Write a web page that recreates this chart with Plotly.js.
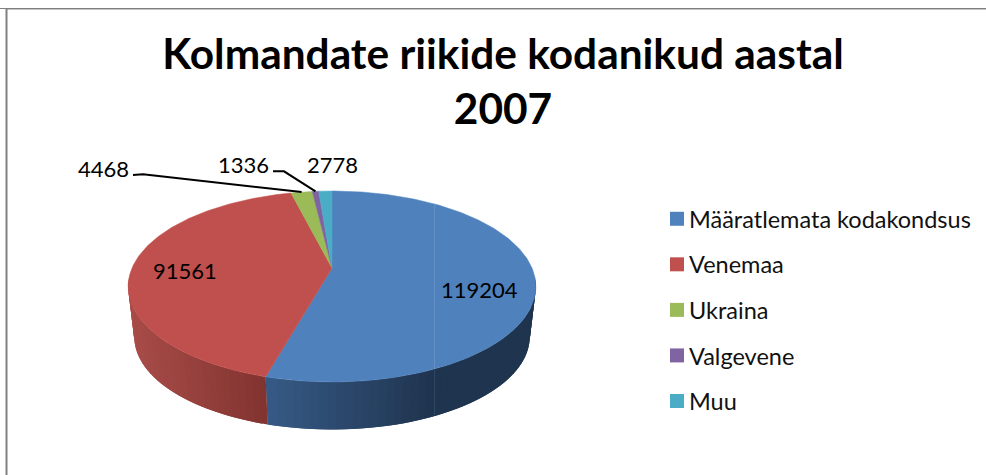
<!DOCTYPE html>
<html><head><meta charset="utf-8">
<script src="https://cdn.plot.ly/plotly-3.0.1.min.js"></script>
<style>html,body{margin:0;padding:0;background:#fff}#c{width:986px;height:475px}</style>
</head><body><div id="c"></div>
<script>
const categories = ["Määratlemata kodakondsus","Venemaa","Ukraina","Valgevene","Muu"];
const values = [119204,91561,4468,1336,2778];
const topColors = ["#4f81bd","#c0504d","#9bbb59","#8064a2","#4bacc6"];
const FONT = "Lato, Carlito, sans-serif";

// projected-disc parameters (canvas-pixel axes)
const CX=332, APEX_Y=268, A=200, B=91.9, P=0.1937, WALL_DY=51, WALL_SCALE=0.97;
function rim(deg, wall){
  const t=deg*Math.PI/180, u=Math.sin(t), v=-Math.cos(t), d=1-P*v, s=wall?WALL_SCALE:1;
  return [CX+s*A*u/d, APEX_Y+(wall?WALL_DY:0)+s*B*v/d];
}
const total=values.reduce((a,b)=>a+b,0);
let cum=0; const bounds=values.map(v=>{const s=cum; cum+=v/total*360; return [s,cum];});

function mix(a,b,f){return 'rgb('+a.map((x,i)=>Math.round(x+(b[i]-x)*f)).join(',')+')';}
function wallColor(x){
  if(x>=434) return 'rgb(31,52,78)';
  if(x>=268) { return mix([54,90,133],[31,52,78],(x-268)/166); }
  return mix([129,51,48],[168,76,72],(268-x)/138);
}
const traces=[];
// side wall, split into shaded strips (front half of the disc only)
const a0=95, a1=265, STEP=2, OVERLAP=2;
const redStart=bounds[0][1];
const cuts=[];
for(let a=a0;a<a1;a+=STEP) cuts.push(a);
cuts.push(redStart); cuts.push(a1); cuts.sort((p,q)=>p-q);
for(let i=0;i<cuts.length-1;i++){
  const p=cuts[i],q0=cuts[i+1]; if(q0-p<1e-6) continue;
  const limit=p<redStart?redStart:a1;
  const q=Math.min(q0+OVERLAP,limit);
  const m=(p+q0)/2, tl=rim(p), tr=rim(q), bl=rim(q,true), br=rim(p,true);
  const xm=rim(m)[0];
  let c=wallColor(xm);
  if(m<redStart && xm<268) c=wallColor(268);
  if(m>redStart && xm>268) c=wallColor(267);
  traces.push({type:'scatter',mode:'lines',x:[tl[0],tr[0],bl[0],br[0],tl[0]],y:[tl[1],tr[1],bl[1],br[1],tl[1]],
    fill:'toself',fillcolor:c,line:{width:0},showlegend:false,hoverinfo:'skip'});
}
// top surface: one filled sector per category
categories.forEach((n,i)=>{
  const xs=[CX],ys=[APEX_Y]; const [s,e]=bounds[i];
  const steps=Math.max(4,Math.ceil((e-s)));
  for(let k=0;k<=steps;k++){const r=rim(s+(e-s)*k/steps); xs.push(r[0]); ys.push(r[1]);}
  xs.push(CX); ys.push(APEX_Y);
  traces.push({type:'scatter',mode:'lines',x:xs,y:ys,fill:'toself',fillcolor:topColors[i],
    line:{color:topColors[i],width:0.5},showlegend:false,name:n,text:String(values[i]),hoverinfo:'text+name'});
});
// leader lines to the two small slices
function mid(i){return (bounds[i][0]+bounds[i][1])/2;}
const e2=rim(mid(2)), e3=rim(mid(3));
traces.push({type:'scatter',mode:'lines',x:[133,143,e2[0]],y:[175,174.3,e2[1]],line:{color:'#000',width:2},showlegend:false,hoverinfo:'skip'});
traces.push({type:'scatter',mode:'lines',x:[273,284,e3[0]],y:[171.3,171.3,e3[1]],line:{color:'#000',width:2},showlegend:false,hoverinfo:'skip'});
// legend-only entries
categories.forEach((n,i)=>{
  traces.push({type:'scatter',mode:'markers',x:[null],y:[null],name:n,legendgroup:n,
    marker:{symbol:'square',size:14,color:topColors[i]},showlegend:true});
});

const labelPos=[[479,289.5],[185,270],[103,168],[243,164],[332,164]];
const annotations=values.map((v,i)=>({x:labelPos[i][0],y:labelPos[i][1],xref:'x',yref:'y',text:String(v),showarrow:false,
  xanchor:'center',yanchor:'middle',font:{family:FONT,size:22,color:'#000'}}));

const layout={
  width:986,height:475,margin:{l:0,r:0,t:0,b:0},paper_bgcolor:'#fff',plot_bgcolor:'#fff',
  xaxis:{range:[0,986],visible:false,fixedrange:true},
  yaxis:{range:[475,0],visible:false,fixedrange:true},
  title:{text:'<b>Kolmandate riikide kodanikud aastal<br>2007</b>',x:503/986,xanchor:'center',xref:'paper',y:0.854,yanchor:'top',yref:'container',
    font:{family:FONT,size:42.4,color:'#000'}},
  legend:{x:649/986,xanchor:'left',y:1-197/475,yanchor:'top',bgcolor:'rgba(0,0,0,0)',tracegroupgap:12,traceorder:'grouped',
    font:{family:FONT,size:23.5,color:'#111'},itemclick:false,itemdoubleclick:false},
  annotations,
  shapes:[
    {type:'line',xref:'paper',yref:'paper',x0:0,x1:1,y0:1-8.5/475,y1:1-8.5/475,line:{color:'#808080',width:1}},
    {type:'line',xref:'paper',yref:'paper',x0:7/986,x1:1,y0:1-9.5/475,y1:1-9.5/475,line:{color:'#c4c4c4',width:1}},
    {type:'line',xref:'paper',yref:'paper',x0:6.5/986,x1:6.5/986,y0:0,y1:1-8/475,line:{color:'#808080',width:2}},
    {type:'line',xref:'x',yref:'y',x0:434.5,x1:434.5,y0:205,y1:368,line:{color:'#6491c8',width:1}},
    {type:'line',xref:'x',yref:'y',x0:434.5,x1:434.5,y0:369,y1:415,line:{color:'#2e4765',width:1}}
  ],
  showlegend:true
};
Plotly.newPlot('c',traces,layout,{staticPlot:false,displayModeBar:false}).then(()=>{
  document.querySelectorAll('.legend .legendsymbols').forEach(g=>g.setAttribute('transform','translate(8,0)'));
});
</script></body></html>
